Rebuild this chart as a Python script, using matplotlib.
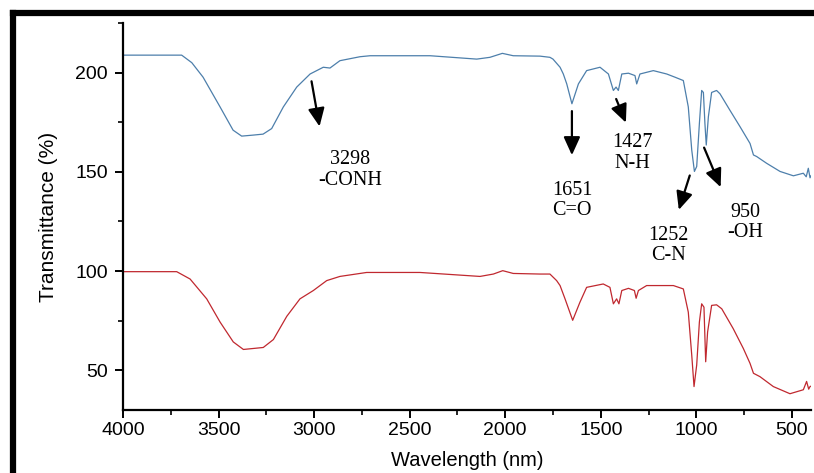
import matplotlib
matplotlib.use("Agg")
import matplotlib.pyplot as plt
from matplotlib.lines import Line2D

# FTIR spectra
wn_top = [4000, 3693, 3640, 3581, 3492, 3424, 3379, 3320, 3267, 3222, 3161, 3091, 3021,
          2952, 2917, 2865, 2760, 2707, 2393, 2149, 2080, 2015, 1958, 1818, 1766,
          1750, 1713, 1696, 1678, 1651, 1617, 1574, 1504, 1460, 1434, 1420, 1408,
          1390, 1355, 1321, 1312, 1295, 1225, 1155, 1112, 1068, 1042, 1024, 1010,
          998, 984, 972, 963, 955, 948, 937, 920, 894, 876, 824, 771, 719, 701,
          684, 632, 562, 492, 440, 425, 414, 405, 400]
tr_top = [208.8, 208.8, 205.0, 197.7, 182.7, 171.0, 168.0, 168.5, 169.0, 171.8, 182.7, 192.7, 199.3,
          202.7, 202.3, 206.0, 208.0, 208.5, 208.5, 206.8, 207.7, 209.7, 208.5, 208.3, 207.7,
          206.8, 202.7, 199.3, 194.3, 184.3, 194.3, 201.0, 202.7, 199.3, 191.0, 192.7, 191.0,
          199.3, 199.7, 198.5, 194.3, 199.3, 201.0, 199.3, 197.7, 196.0, 182.7, 161.0, 150.2,
          152.7, 174.3, 191.0, 190.0, 174.3, 163.5, 177.7, 190.0, 191.0, 189.3, 181.0, 172.7, 164.3, 158.5,
          157.7, 154.3, 150.2, 148.0, 149.3, 147.5, 151.8, 147.0, 148.0]

wn_bot = [4000, 3719, 3649, 3562, 3492, 3423, 3370, 3266, 3213, 3143, 3074, 3004,
          2934, 2865, 2760, 2725, 2446, 2132, 2062, 2013, 1958, 1818, 1766, 1731,
          1713, 1687, 1647, 1609, 1574, 1487, 1452, 1434, 1417, 1405, 1390, 1355,
          1324, 1315, 1303, 1260, 1120, 1068, 1042, 1024, 1012, 998, 984, 972,
          960, 951, 941, 920, 894, 867, 807, 754, 719, 701, 667, 597, 510, 440,
          423, 412, 405, 400]
tr_bot = [99.7, 99.7, 96.0, 86.0, 74.3, 64.3, 60.5, 61.5, 65.5, 77.2, 86.0, 90.2,
          95.2, 97.3, 98.8, 99.3, 99.3, 97.3, 98.5, 100.2, 98.8, 98.5, 98.5, 95.2,
          92.7, 86.0, 75.2, 84.3, 91.8, 93.5, 91.8, 83.5, 86.0, 83.5, 90.2, 91.3,
          90.2, 86.3, 90.2, 92.7, 92.7, 91.0, 79.3, 57.7, 41.8, 52.7, 74.3, 83.5,
          81.8, 54.3, 69.3, 82.7, 83.0, 81.0, 71.0, 61.0, 53.5, 48.5, 46.8, 41.8, 38.2, 40.2,
          44.4, 40.5, 41.8, 42.0]

# annotations: label, arrow start, arrow tip, text centre (data coords)
notes = [
    ("3298\n-CONH", (3016, 197),   (2969, 171.5), (2812, 151)),
    ("1651\nC=O",   (1651, 182),   (1651, 157),   (1650, 135.5)),
    ("1427\nN-H",   (1425, 188),   (1363, 173.5), (1336, 159.5)),
    ("1252\nC-N",   (1030, 149.5), (1096, 129.5), (1148, 113)),
    ("950\n-OH",    (965, 163.5),  (867, 141),    (745, 124.5)),
]

fig = plt.figure(figsize=(8.14, 4.73), dpi=100)
ax = fig.add_axes([0.1511, 0.1332, 0.8452, 0.8182])

ax.plot(wn_top, tr_top, color="#4d7fab", lw=0.9)
ax.plot(wn_bot, tr_bot, color="#c0282f", lw=0.9)

ax.set_xlim(4000, 400)
ax.set_ylim(30, 225)
ax.set_xticks([4000, 3500, 3000, 2500, 2000, 1500, 1000, 500])
ax.set_xticks(range(3750, 400, -500), minor=True)
ax.set_yticks([50, 100, 150, 200])
ax.set_yticks([75, 125, 175, 225], minor=True)

for s in ["top", "right"]:
    ax.spines[s].set_visible(False)
for s in ["left", "bottom"]:
    ax.spines[s].set_linewidth(1.6)
ax.tick_params(which="major", direction="out", length=6, width=1.4, labelsize=14)
ax.tick_params(axis="y", pad=5)
ax.tick_params(axis="x", pad=3)
ax.tick_params(which="minor", direction="out", length=3.5, width=1.2)
for lab in ax.get_xticklabels() + ax.get_yticklabels():
    lab.set_family("Liberation Sans")

ax.set_xlabel("Wavelength (nm)", family="Liberation Sans", fontsize=14.5, labelpad=8)
ax.set_ylabel("Transmittance (%)", family="Liberation Sans", fontsize=15, labelpad=12)

for txt, p0, p1, pt in notes:
    ax.annotate("", xy=p1, xytext=p0,
                arrowprops=dict(arrowstyle="-|>,head_length=1.1,head_width=0.5",
                                color="black", lw=1.6))
    ax.text(pt[0], pt[1], txt, family="Liberation Serif", fontsize=14.5,
            ha="center", va="center", linespacing=1.1)

# thick black frame on the top and left edges of the picture
fig.add_artist(Line2D([13 / 814, 1.0], [1 - 13 / 473, 1 - 13 / 473], color="black", lw=4.5,
                      transform=fig.transFigure, solid_capstyle="projecting"))
fig.add_artist(Line2D([13 / 814, 13 / 814], [1 - 13 / 473, 0.0], color="black", lw=4.5,
                      transform=fig.transFigure, solid_capstyle="projecting"))

fig.savefig("out.png", dpi=100)
